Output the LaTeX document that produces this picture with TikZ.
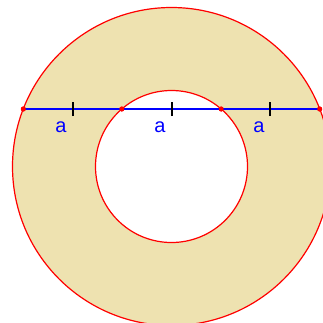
\documentclass[tikz,border=0pt]{standalone}
\usepackage{fontspec}
\setmainfont{Liberation Sans}
\definecolor{ring}{RGB}{238,226,176}
\begin{document}
\begin{tikzpicture}[x=1pt,y=-1pt,
  circ/.style={draw=red,line width=1.2pt},
  seg/.style={draw=blue,line width=1.5pt},
  tick/.style={draw=black,line width=1.2pt},
  pt/.style={circle,fill=red,inner sep=0pt,minimum size=5pt},
  lab/.style={text=blue,font=\fontsize{20}{20}\selectfont,inner sep=0pt}]
\useasboundingbox (0,0) rectangle (323,322);
\clip (0,0) rectangle (323,322);
\coordinate (O) at (171.5,166.5);
\fill[ring,even odd rule] (O) circle[radius=159] (O) circle[radius=76];
\draw[circ] (O) circle[radius=159];
\draw[circ] (O) circle[radius=76];
\node[pt] (A) at (23.3,109) {};
\node[pt] (B) at (121.8,109) {};
\node[pt] (C) at (221.2,109) {};
\node[pt] (D) at (319.7,109) {};
\draw[seg] (A.center) -- (B.center) -- (C.center) -- (D.center);
\coordinate (m1) at (73,109);
\coordinate (m2) at (172,109);
\coordinate (m3) at (270,109);
\foreach \m in {m1,m2,m3} \draw[tick] ([yshift=-7pt]\m) -- ([yshift=7pt]\m);
\node[pt] at (A) {};
\node[pt] at (B) {};
\node[pt] at (C) {};
\node[pt] at (D) {};
\node[lab] (l1) at (61,127) {a};
\node[lab] (l2) at (160,127) {a};
\node[lab] (l3) at (259,127) {a};
\end{tikzpicture}
\end{document}
